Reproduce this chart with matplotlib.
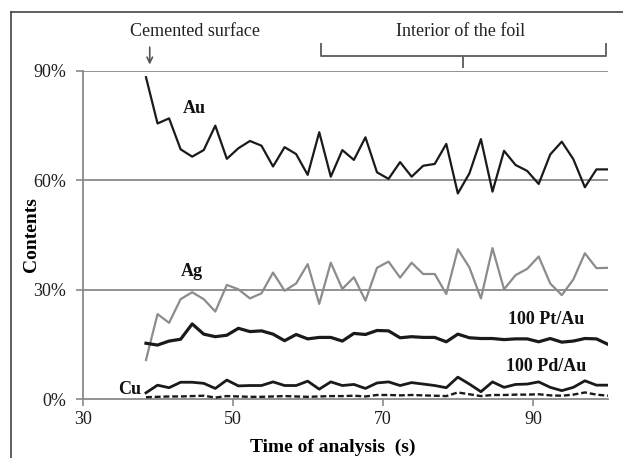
import numpy as np
import matplotlib
matplotlib.use('Agg')
import matplotlib.pyplot as plt
from matplotlib.lines import Line2D

plt.rcParams['font.family'] = ['Liberation Serif', 'DejaVu Serif']

# tiempo de analisis (s), 41 puntos
t0 = 38.4
dt = 1.54
n = 41
t = t0 + dt * np.arange(n)

# contenidos (%)
au = [88.3, 75.6, 77.0, 68.5, 66.5, 68.3, 75.0, 65.9, 68.8, 70.8, 69.5,
      63.8, 69.1, 67.2, 61.5, 73.2, 61.0, 68.3, 65.6, 71.8, 62.2,
      60.4, 65.0, 61.0, 64.0, 64.5, 70.0, 56.4, 61.9, 71.3, 56.9,
      68.1, 64.2, 62.6, 59.0, 67.1, 70.6, 65.8, 58.1, 63.0, 63.0]
ag = [10.7, 23.3, 20.9, 27.4, 29.3, 27.4, 24.0, 31.3, 30.1, 27.6, 29.0,
      34.7, 29.7, 31.7, 37.0, 26.1, 37.4, 30.2, 33.4, 27.0, 36.0,
      37.7, 33.3, 37.4, 34.3, 34.3, 28.8, 41.1, 36.1, 27.6, 41.4,
      30.1, 34.0, 35.7, 39.1, 31.7, 28.5, 32.8, 40.0, 35.9, 36.0]
pt_au = [15.3, 14.8, 15.9, 16.4, 20.6, 17.8, 17.1, 17.5, 19.4, 18.5, 18.7,
         17.8, 16.0, 17.7, 16.5, 16.9, 16.9, 15.9, 18.0, 17.7, 18.8,
         18.7, 16.8, 17.1, 16.9, 16.9, 15.7, 17.8, 16.8, 16.6, 16.6,
         16.3, 16.5, 16.5, 15.7, 16.6, 15.6, 15.9, 16.6, 16.5, 15.0]
pd_au = [1.7, 3.8, 3.1, 4.6, 4.6, 4.3, 2.9, 5.2, 3.6, 3.7, 3.7,
         4.7, 3.7, 3.7, 4.9, 2.7, 4.7, 3.7, 4.0, 2.9, 4.4,
         4.7, 3.7, 4.5, 4.1, 3.7, 3.1, 6.0, 4.1, 2.0, 4.7,
         3.2, 4.0, 4.1, 4.7, 3.2, 2.3, 3.2, 5.0, 3.8, 3.8]
cu = [0.5, 0.6, 0.7, 0.7, 0.8, 0.9, 0.4, 0.8, 0.7, 0.6, 0.6,
      0.7, 0.8, 0.7, 0.6, 0.7, 0.8, 0.8, 0.9, 0.7, 1.1,
      1.1, 1.0, 1.1, 1.0, 0.9, 0.8, 1.8, 1.3, 0.8, 1.1,
      1.1, 1.2, 1.2, 1.3, 1.0, 0.9, 1.2, 1.8, 1.2, 0.9]

y_ticks = [0, 30, 60, 90]
y_tick_labels = ['0%', '30%', '60%', '90%']
x_ticks = [30, 50, 70, 90]

fig = plt.figure(figsize=(6.23, 4.58), dpi=100)
ax = fig.add_axes([0.1332, 0.1288, 0.8427, 0.7162])

gris = '#8a8a8a'
for yv in [30, 60, 90]:
    ax.axhline(yv, color=gris, lw=1.3, zorder=1)

ax.plot(t, au, color='#1a1a1a', lw=1.6, zorder=3)
ax.plot(t, ag, color='#8c8c8c', lw=1.6, zorder=3)
ax.plot(t, pt_au, color='#1a1a1a', lw=2.3, zorder=3)
ax.plot(t, pd_au, color='#1a1a1a', lw=2.0, zorder=3)
ax.plot(t, cu, color='#1a1a1a', lw=1.7, ls=(0, (2.5, 1.2)), zorder=3)

ax.set_xlim(30, 100)
ax.set_ylim(0, 90)
ax.set_xticks(x_ticks)
ax.set_yticks(y_ticks)
ax.set_yticklabels(y_tick_labels)
ax.tick_params(axis='both', labelsize=13, color=gris, length=5, width=1.2,
               labelcolor='#1e1e1e')
ax.tick_params(axis='y', pad=7)

for s in ['top', 'right']:
    ax.spines[s].set_visible(False)
for s in ['left', 'bottom']:
    ax.spines[s].set_color(gris)
    ax.spines[s].set_linewidth(1.3)

ax.set_xlabel('Time of analysis  (s)', fontsize=14, fontweight='bold')
ax.xaxis.set_label_coords(0.475, -0.12)
ax.set_ylabel('Contents', fontsize=14, fontweight='bold')
ax.yaxis.set_label_coords(-0.082, 0.5)

# etiquetas de las series
lab = dict(fontsize=13, fontweight='bold', ha='center', va='center', color='#111111')
ax.text(44.9, 79.8, 'Au', **lab)
ax.text(44.5, 35.0, 'Ag', **lab)
ax.text(91.7, 21.7, '100 Pt/Au', **lab)
ax.text(91.8, 8.8, '100 Pd/Au', **lab)
ax.text(36.2, 2.6, 'Cu', **lab)

# anotaciones superiores
ax.text(45.0, 100.8, 'Cemented surface', fontsize=13, ha='center', va='center',
        color='#222222', clip_on=False)
ax.annotate('', xy=(38.9, 91.0), xytext=(38.9, 97.3),
            arrowprops=dict(arrowstyle='->', color='#555555', lw=1.2),
            annotation_clip=False)
ax.text(80.3, 100.8, 'Interior of the foil', fontsize=13, ha='center', va='center',
        color='#222222', clip_on=False)
bx = [61.7, 61.7, 99.7, 99.7]
by = [97.3, 94.2, 94.2, 97.3]
ax.plot(bx, by, color='#666666', lw=1.4, clip_on=False)
ax.plot([80.7, 80.7], [94.2, 91.2], color='#666666', lw=1.4, clip_on=False)

# borde de la figura
fig.add_artist(Line2D([11 / 623, 1.0], [1 - 12 / 458, 1 - 12 / 458],
                      color='#444444', lw=1.2, transform=fig.transFigure))
fig.add_artist(Line2D([11 / 623, 11 / 623], [0.0, 1 - 12 / 458],
                      color='#444444', lw=1.2, transform=fig.transFigure))

fig.savefig('out.png', dpi=100)
